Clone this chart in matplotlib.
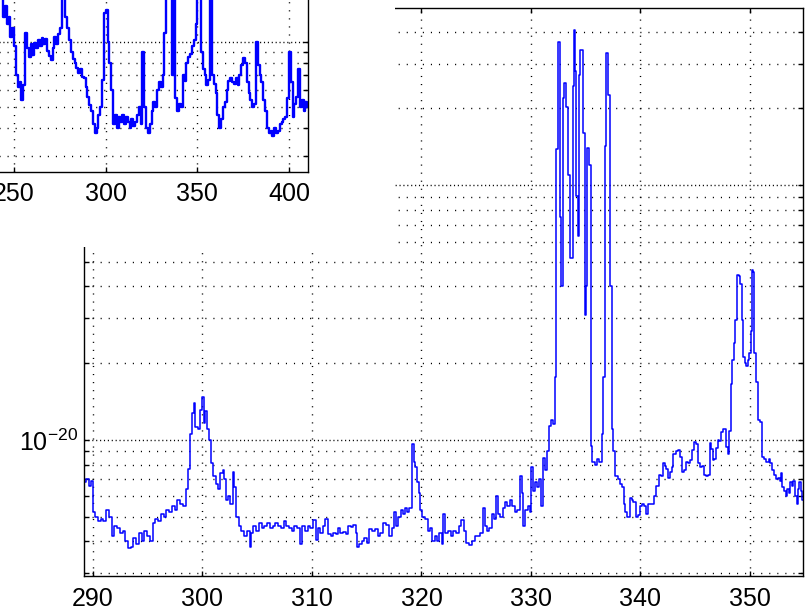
import matplotlib
matplotlib.use('Agg')
import numpy as np
import matplotlib.pyplot as plt
from matplotlib.ticker import LogLocator, NullFormatter, FixedLocator, FuncFormatter

plt.rcParams['font.family'] = ['Liberation Sans', 'DejaVu Sans']
plt.rcParams['mathtext.fontset'] = 'custom'
plt.rcParams['mathtext.rm'] = 'Liberation Sans'

UNIT = 1e-21  # spectrum values below are in units of 1e-21

# zoomed spectrum, 289-355 (step start positions and levels)
freq_zoom = [
    289.2, 289.4, 289.6, 289.8, 290.0, 290.2, 290.45, 290.7, 290.95, 291.2,
    291.45, 291.75, 291.95, 292.2, 292.45, 292.7, 292.95, 293.2, 293.45, 293.7,
    293.95, 294.2, 294.45, 294.7, 294.95, 295.2, 295.45, 295.7, 295.95, 296.2,
    296.45, 296.7, 296.95, 297.2, 297.45, 297.7, 297.95, 298.2, 298.45, 298.7,
    298.9, 299.05, 299.2, 299.35, 299.55, 299.75, 299.95, 300.1, 300.25, 300.4,
    300.6, 300.8, 301.0, 301.2, 301.45, 301.6, 301.85, 302.0, 302.15, 302.35,
    302.55, 302.75, 302.9, 303.05, 303.3, 303.55, 303.8, 304.05, 304.3, 304.45,
    304.65, 304.9, 305.15, 305.4, 305.65, 305.9, 306.15, 306.4, 306.65, 306.9,
    307.15, 307.4, 307.65, 307.9, 308.15, 308.4, 308.65, 308.9, 309.1, 309.35,
    309.6, 309.85,
    310.1, 310.35, 310.55, 310.75, 311.0, 311.2, 311.45, 311.7, 311.95, 312.2,
    312.4, 312.6, 312.85, 313.1, 313.3, 313.55, 313.75, 314.0, 314.15, 314.3,
    314.55, 314.75, 315.0, 315.25, 315.5, 315.75, 316.0, 316.25, 316.5, 316.75,
    317.05, 317.3, 317.5, 317.7, 317.9, 318.1, 318.3, 318.5, 318.7, 318.9,
    319.1, 319.3, 319.45, 319.6, 319.75, 319.9, 320.05, 320.3, 320.55, 320.75,
    320.95, 321.2, 321.4, 321.6, 321.85, 322.0, 322.15, 322.4, 322.65, 322.9,
    323.15, 323.4, 323.6, 323.85, 324.1, 324.35, 324.6, 324.85, 325.1, 325.35,
    325.6, 325.8, 326.0, 326.2, 326.4, 326.6, 326.85, 327.0, 327.2, 327.45,
    327.65, 327.85, 328.05, 328.25, 328.5, 328.75, 329.0, 329.15, 329.3, 329.45,
    329.7, 329.9, 330.0, 330.15, 330.35, 330.55, 330.75, 330.95, 331.1, 331.3,
    331.45, 331.6, 331.8,
    332.05, 332.17, 332.28, 332.44, 332.65, 332.78, 332.95, 333.04, 333.2, 333.41,
    333.55, 333.8, 333.93, 334.05, 334.15, 334.3, 334.4, 334.5, 334.75, 334.9,
    335.05, 335.15, 335.3, 335.45, 335.6, 335.8, 336.0, 336.2, 336.45, 336.6,
    336.76, 336.85, 337.0, 337.2, 337.37, 337.52, 337.67,
    337.9, 338.1, 338.3, 338.45, 338.6, 338.8, 339.0, 339.2, 339.35, 339.55,
    339.75, 339.95, 340.1, 340.3, 340.5, 340.65, 340.85, 341.05, 341.2, 341.45,
    341.7, 341.9, 342.05, 342.2, 342.35, 342.55, 342.7, 342.85, 343.0, 343.2,
    343.45, 343.65, 343.8, 343.95, 344.15, 344.35, 344.55, 344.7, 344.85, 345.1,
    345.25, 345.45, 345.65, 345.8, 346.0, 346.2, 346.35, 346.45, 346.6, 346.75,
    346.9, 347.05, 347.2, 347.35, 347.5, 347.7, 347.85, 348.0, 348.1, 348.25,
    348.3, 348.4, 348.55, 348.65, 348.8, 348.95, 349.1, 349.25, 349.35, 349.5,
    349.65, 349.85, 349.95, 350.05, 350.15, 350.3, 350.4, 350.55, 350.75, 350.95,
    351.1, 351.3, 351.5, 351.7, 351.85, 352.05, 352.2, 352.4, 352.55, 352.7,
    352.85, 352.95, 353.1, 353.25, 353.4, 353.55, 353.65, 353.8, 353.95, 354.1,
    354.25, 354.35, 354.5, 354.65, 354.75, 354.9,
]
psd_zoom = [
    6.8, 7.0, 6.6, 6.9, 5.2, 5.0, 4.8, 4.9, 4.8, 5.3,
    5.0, 4.2, 4.6, 4.5, 4.3, 4.4, 4.0, 3.75, 3.8, 4.1,
    3.9, 4.3, 4.0, 4.4, 4.2, 4.0, 4.7, 4.9, 4.8, 5.1,
    5.0, 5.3, 5.2, 5.5, 5.3, 5.8, 5.6, 5.5, 6.4, 7.7,
    10.5, 12.8, 14.0, 11.2, 11.0, 13.1, 14.7, 11.6, 13.0, 11.0,
    10.0, 8.1, 7.2, 6.7, 6.4, 7.4, 7.6, 7.0, 5.8, 6.0,
    5.6, 7.5, 6.5, 5.0, 4.6, 4.4, 4.2, 4.4, 3.8, 4.3,
    4.6, 4.4, 4.7, 4.5, 4.6, 4.7, 4.5, 4.6, 4.7, 4.6,
    4.5, 4.8, 4.6, 4.5, 4.4, 4.6, 4.5, 3.9, 4.6, 4.4,
    4.6, 4.5,
    4.85, 4.05, 4.5, 4.3, 4.6, 4.9, 4.25, 4.2, 4.3, 4.25,
    4.5, 4.3, 4.35, 4.25, 4.6, 4.55, 4.65, 4.3, 3.8, 3.9,
    4.0, 4.1, 3.95, 4.45, 4.4, 4.45, 4.2, 4.3, 4.7, 4.65,
    4.2, 4.5, 5.2, 4.6, 5.0, 5.3, 5.1, 5.4, 5.2, 5.4,
    9.6, 8.2, 7.8, 6.8, 6.2, 5.3, 5.0, 4.9, 4.4, 4.5,
    4.0, 4.2, 4.0, 4.3, 3.9, 5.1, 4.3, 4.4, 4.2, 4.4,
    4.3, 4.6, 4.85, 4.4, 3.95, 3.85, 4.0, 4.2, 4.2, 4.3,
    5.4, 4.6, 4.4, 4.5, 5.1, 4.9, 6.0, 5.1, 5.0, 5.4,
    5.7, 5.5, 5.8, 5.5, 5.2, 5.3, 7.2, 6.2, 4.6, 5.3,
    5.5, 5.2, 7.8, 6.3, 6.8, 6.5, 7.0, 5.5, 8.5, 7.6,
    9.0, 11.3, 12.0,
    11.5, 17.7, 139, 366, 75, 40, 220, 251, 203, 110,
    51.6, 245, 407, 280, 91, 63, 270, 340, 160, 31,
    40, 140, 120, 9.5, 8.2, 8.0, 8.4, 8.2, 10.5, 17.7,
    143, 330, 226, 40, 11, 9.0, 7.2,
    7.0, 6.7, 6.5, 5.6, 5.2, 5.0, 5.9, 5.8, 5.7, 5.0,
    5.05, 5.5, 5.6, 5.5, 5.1, 5.6, 5.6, 5.6, 6.0, 6.6,
    7.3, 7.2, 8.1, 7.9, 7.7, 7.1, 7.5, 7.8, 8.8, 9.0,
    9.1, 8.6, 7.5, 7.6, 8.2, 8.1, 8.3, 9.1, 9.8, 9.6,
    8.1, 7.8, 7.9, 7.3, 7.2, 7.3, 9.7, 9.2, 8.3, 8.4,
    9.3, 10.0, 9.9, 10.7, 11.0, 11.0, 9.4, 8.8, 10.8, 10.9,
    16.5, 20.6, 23.9, 29.5, 44.5, 44.0, 41, 29.5, 21.2, 20.0,
    19.5, 20.5, 22, 26.8, 46.5, 45.5, 22, 16.8, 12.0, 11.8,
    8.6, 8.4, 8.2, 8.4, 8.1, 7.6, 7.3, 7.0, 7.1, 6.9,
    7.4, 6.5, 6.3, 6.0, 6.4, 6.2, 6.8, 6.6, 6.9, 6.0,
    5.6, 6.4, 6.8, 6.3, 5.8, 5.8,
]

# wide view, one value per unit from 241 to 410
freq_wide = list(range(241, 411))
psd_wide = [
    19, 18, 16, 13, 14.5, 12, 13, 10.5, 11.5, 9.5,
    7, 6.2, 6.5, 5.4, 6.3, 11, 9.3, 8.5, 9.8, 8.7,
    9.9, 9.3, 10.2, 9.5, 10.4, 9.8, 10.3, 9.1, 8.6, 8.2,
    9.3, 10.5, 9.8, 10.8, 11.5, 18, 16, 13, 11.5, 10.2,
    9.0, 8.3, 8.0, 7.6, 7.2, 7.5, 6.9, 6.8, 6.2, 5.6,
    5.1, 4.8, 4.2, 3.8, 4.0, 4.6, 5.0, 6.7, 13.5, 14,
    10, 8, 6.0, 4.2, 4.6, 4.0, 4.5, 4.3, 4.6, 4.2,
    4.5, 4.3, 4.0, 4.4, 4.1, 4.3, 4.6, 5.0, 4.2, 9.0,
    5.0, 4.0, 3.8, 4.2, 4.8, 5.3, 5.0, 6.0, 6.5, 6.2,
    7.0, 11, 25, 30, 22, 7, 25, 5.5, 4.8, 5.2,
    5.0, 7.0, 6.6, 8.0, 8.5, 8.8, 9.5, 10.2, 12, 30,
    22, 9, 7.5, 7.0, 6.3, 6.7, 16, 7.0, 6.4, 5.8,
    4.6, 4.0, 4.4, 5.0, 5.3, 6.0, 6.6, 6.8, 6.5, 6.4,
    6.8, 6.3, 7.0, 7.8, 8.4, 8.0, 6.5, 5.8, 5.4, 5.0,
    5.2, 10, 7.8, 7.0, 6.5, 5.4, 4.8, 4.0, 3.8, 3.9,
    3.7, 4.0, 3.8, 3.9, 4.2, 4.3, 4.4, 4.5, 5.5, 9.0,
    6.5, 4.5, 5.2, 5.6, 7.5, 5.0, 5.4, 4.8, 5.3, 5.0,
]

zoom_xticks = [290, 300, 310, 320, 330, 340, 350]
zoom_yticks = [1e-20, 1e-19]
wide_xticks = [250, 300, 350, 400]

W, H = 808, 612
LABEL_SIZE = 18


def px_rect(left, top, right, bottom):
    return [left / W, 1 - bottom / H, (right - left) / W, (bottom - top) / H]


def style_axes(ax, xpad):
    ax.set_yscale('log')
    ax.yaxis.set_minor_locator(LogLocator(base=10, subs=np.arange(2, 10)))
    ax.yaxis.set_minor_formatter(NullFormatter())
    ax.tick_params(which='both', direction='in', top=True, right=True,
                   length=3.6, width=1.0, labelsize=LABEL_SIZE,
                   colors='black')
    ax.tick_params(axis='x', pad=xpad)
    for sp in ax.spines.values():
        sp.set_linewidth(1.0)
    ax.xaxis.grid(True, which='major', color='k', lw=1.0, ls=(0, (0.8, 5)))
    ax.yaxis.grid(True, which='major', color='k', lw=1.0, ls=(0, (0.8, 2)))
    ax.yaxis.grid(True, which='minor', color='k', lw=1.0, ls=(0, (0.8, 5)))
    ax.set_axisbelow(True)


def decade_label(v, pos):
    # only the 1e-20 decade sits in the visible part of the left axis
    return r'$\mathdefault{10^{-20}}$' if np.isclose(v, 1e-20) else ''


fig = plt.figure(figsize=(W / 100, H / 100), dpi=100)

# main (zoomed) spectrum
ax = fig.add_axes(px_rect(84, 8, 803, 576), zorder=0)
ax.plot(freq_zoom, np.array(psd_zoom) * UNIT, color='#0000ff', lw=1.1,
        drawstyle='steps-post')
style_axes(ax, xpad=8.0)
ax.set_xticks(zoom_xticks)
ax.yaxis.set_major_locator(FixedLocator(zoom_yticks))
ax.yaxis.set_major_formatter(FuncFormatter(decade_label))
ax.tick_params(axis='y', pad=4.5)
ax.set_xlim(289.18, 354.84)
ax.set_ylim(2.92e-21, 4.96e-19)

# blank block behind the wide-view panel
cover = fig.add_axes(px_rect(0, 0, 395, 247), zorder=2)
cover.set_axis_off()
cover.add_patch(plt.Rectangle((0, 0), 1, 1, transform=cover.transAxes,
                              facecolor='white', edgecolor='none'))

# wide-view spectrum
axw = fig.add_axes(px_rect(-100, -30, 308, 172), zorder=3)
axw.plot(freq_wide, np.array(psd_wide) * UNIT, color='#0000ff', lw=1.7,
         drawstyle='steps-post')
style_axes(axw, xpad=7)
axw.xaxis.set_major_locator(FixedLocator(wide_xticks))
axw.tick_params(axis='y', labelleft=False)
axw.set_xlim(187.8, 410.37)
axw.set_ylim(2.525e-21, 2.13e-20)

fig.savefig('out.png', dpi=100)
